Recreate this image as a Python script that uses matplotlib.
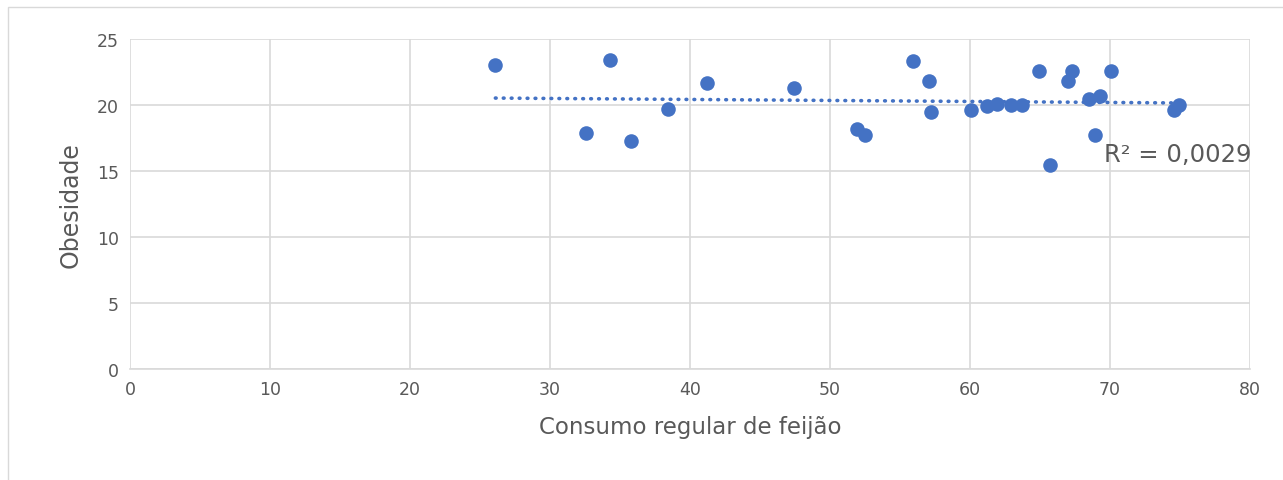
import numpy as np
import matplotlib.pyplot as plt
from matplotlib.patches import Rectangle

# dados: consumo regular de feijão (%) x obesidade (%)
feijao = [26.1, 32.6, 34.3, 35.8, 38.4, 41.2, 47.4, 51.9, 52.5, 55.9,
          57.1, 57.2, 60.1, 61.2, 61.9, 62.9, 63.7, 64.9, 65.7, 67.0,
          67.3, 68.5, 68.9, 69.3, 70.1, 74.6, 74.9]
obesidade = [23.0, 17.85, 23.4, 17.3, 19.7, 21.7, 21.3, 18.2, 17.7, 23.35,
             21.8, 19.5, 19.6, 19.95, 20.1, 20.0, 20.0, 22.6, 15.45, 21.8,
             22.6, 20.45, 17.7, 20.7, 22.6, 19.6, 20.0]
r2_texto = "R² = 0,0029"

cinza = '#595959'
azul = '#4472C4'

fig = plt.figure(figsize=(12.83, 4.81), dpi=100)
ax = fig.add_axes([0.1013, 0.2308, 0.873, 0.686])

ax.scatter(feijao, obesidade, s=110, color=azul, zorder=3, linewidths=0)

# linha de tendência
a, b = np.polyfit(feijao, obesidade, 1)
xs = np.array([min(feijao), max(feijao)])
ax.plot(xs, a * xs + b, color=azul, lw=2.6, linestyle=(0, (0.2, 2.0)),
        dash_capstyle='round', zorder=2)
ax.text(69.6, 16.3, r2_texto, fontsize=17.5, color=cinza, va='center', ha='left')

ax.set_xlim(0, 80)
ax.set_ylim(0, 25)
ax.set_xticks(range(0, 81, 10))
ax.set_yticks(range(0, 26, 5))
ax.grid(True, color='#d9d9d9', lw=1.2)
ax.set_axisbelow(True)
for s in ['top', 'right', 'left']:
    ax.spines[s].set_visible(False)
ax.spines['bottom'].set_color('#d9d9d9')
ax.spines['bottom'].set_linewidth(1.2)
ax.tick_params(length=0, labelsize=12.5, colors=cinza, pad=8)
ax.set_xlabel('Consumo regular de feijão', fontsize=16.5, color=cinza, labelpad=12)
ax.set_ylabel('Obesidade', fontsize=17, color=cinza, labelpad=10)

# moldura do gráfico
fig.patches.append(Rectangle((8 / 1283, -0.01), 1.02, (481 - 8) / 481 + 0.01,
                             transform=fig.transFigure, fill=False,
                             edgecolor='#d9d9d9', lw=1))

fig.savefig('out.png', dpi=100)
